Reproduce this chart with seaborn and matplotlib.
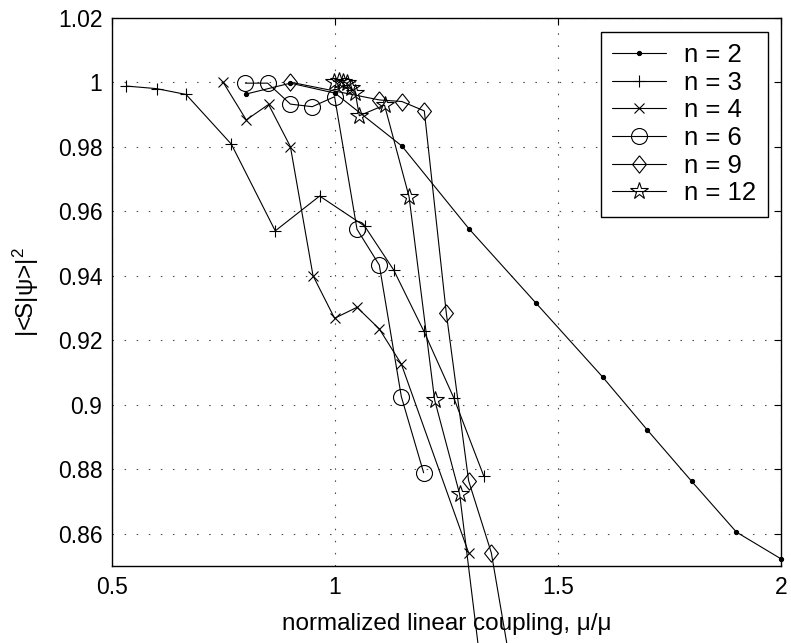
import matplotlib
matplotlib.use("Agg")
import matplotlib.pyplot as plt
import seaborn as sns
import numpy as np
import pandas as pd

# ---------------- data ----------------
n2_x = [0.80, 0.90, 1.00, 1.15, 1.30, 1.45, 1.60, 1.70, 1.80, 1.90, 2.00]
n2_y = [0.9963, 0.9997, 0.9966, 0.9802, 0.9546, 0.9316, 0.9086, 0.8922, 0.8762, 0.8605, 0.8522]

n3_x = [0.532, 0.600, 0.666, 0.7675, 0.866, 0.9655, 1.0664, 1.1314, 1.1987, 1.266, 1.3332]
n3_y = [0.9988, 0.9980, 0.9962, 0.9808, 0.9539, 0.9647, 0.9554, 0.9418, 0.9229, 0.9022, 0.8780]

n4_x = [0.749, 0.801, 0.851, 0.900, 0.9507, 0.999, 1.0493, 1.0993, 1.1487, 1.2995]
n4_y = [1.0000, 0.9883, 0.9931, 0.9800, 0.9400, 0.9268, 0.9302, 0.9235, 0.9126, 0.8541]

n6_x = [0.799, 0.849, 0.900, 0.949, 0.999, 1.0493, 1.0993, 1.1487, 1.1987]
n6_y = [0.9997, 0.9997, 0.9932, 0.9924, 0.9955, 0.9544, 0.9433, 0.9025, 0.8789]

n9_x = [0.900, 1.0993, 1.150, 1.2002, 1.2496, 1.2996, 1.3504, 1.400]
n9_y = [1.0000, 0.9945, 0.9940, 0.9911, 0.9283, 0.8764, 0.8541, 0.8140]

n12_x = [0.997, 1.008, 1.018, 1.027, 1.036, 1.0455, 1.0545, 1.111, 1.166, 1.2233, 1.2794, 1.332]
n12_y = [1.0002, 1.0005, 1.0000, 0.9997, 0.9981, 0.9967, 0.9896, 0.9929, 0.9645, 0.9015, 0.8723, 0.8130]

labels = ["n = 2", "n = 3", "n = 4", "n = 6", "n = 9", "n = 12"]
x_ticks = [0.5, 1.0, 1.5, 2.0]
x_ticklabels = ["0.5", "1", "1.5", "2"]
y_ticks = [0.86, 0.88, 0.90, 0.92, 0.94, 0.96, 0.98, 1.00, 1.02]
y_ticklabels = ["0.86", "0.88", "0.9", "0.92", "0.94", "0.96", "0.98", "1", "1.02"]

# ---------------- style ----------------
sns.set_style("white")
plt.rcParams["font.family"] = ["Liberation Sans", "DejaVu Sans"]
plt.rcParams["mathtext.fontset"] = "custom"
plt.rcParams["mathtext.rm"] = "Liberation Sans"
plt.rcParams["mathtext.it"] = "Liberation Sans"
plt.rcParams["lines.scale_dashes"] = False
plt.rcParams["text.color"] = "k"
plt.rcParams["axes.labelcolor"] = "k"
plt.rcParams["xtick.color"] = "k"
plt.rcParams["ytick.color"] = "k"

FS = 16.5
FS_LAB = 17.5
FS_LEG = 18.5

# custom diamond (slightly taller than wide, like MATLAB)
diamond = [(0, 1), (0.8, 0), (0, -1), (-0.8, 0), (0, 1)]

fig = plt.figure(figsize=(7.91, 6.43), dpi=100)
ax = fig.add_axes([0.1416, 0.1198, 0.8458, 0.8527])

series = [
    (n2_x, n2_y, dict(marker="o", markersize=3.0, markerfacecolor="k")),
    (n3_x, n3_y, dict(marker="+", markersize=8.5, markerfacecolor="k")),
    (n4_x, n4_y, dict(marker="x", markersize=7.0, markerfacecolor="k")),
    (n6_x, n6_y, dict(marker="o", markersize=11.5, markerfacecolor="none")),
    (n9_x, n9_y, dict(marker=diamond, markersize=12.5, markerfacecolor="none")),
    (n12_x, n12_y, dict(marker="*", markersize=13.0, markerfacecolor="none")),
]

for (xs, ys, mk), lab in zip(series, labels):
    df = pd.DataFrame({"x": xs, "y": ys})
    sns.lineplot(data=df, x="x", y="y", ax=ax, color="k", linewidth=0.8,
                 sort=False, estimator=None, label=lab,
                 markeredgecolor="k", markeredgewidth=0.8, **mk)

for ln in ax.get_lines():
    ln.set_clip_on(False)

ax.set_xlim(0.5, 2.0)
ax.set_ylim(0.85, 1.02)
ax.set_xticks(x_ticks)
ax.set_xticklabels(x_ticklabels)
ax.set_yticks(y_ticks)
ax.set_yticklabels(y_ticklabels)
ax.tick_params(direction="in", length=5, width=0.8, top=True, right=True,
               labelsize=FS, pad=7, colors="k")

ax.grid(True, linestyle=(0, (1.1, 7.6)), linewidth=0.8, color="0.3")
for s in ax.spines.values():
    s.set_linewidth(1.0)
    s.set_color("k")
    s.set_visible(True)

ax.set_xlabel("normalized linear coupling, μ/μ", fontsize=FS_LAB, labelpad=10, color="k")
ax.set_ylabel("|<S|ψ>|$^2$", fontsize=FS_LAB, labelpad=12, color="k")

leg = ax.legend(loc="upper right", bbox_to_anchor=(0.9806, 0.9745),
                borderaxespad=0, fontsize=FS_LEG, frameon=True, fancybox=False,
                edgecolor="k", framealpha=1, handlelength=2.1,
                handletextpad=0.7, labelspacing=0.14, borderpad=0.45)
leg.get_frame().set_linewidth(1.0)
for t in leg.get_texts():
    t.set_color("k")

fig.savefig("out.png", dpi=100)
